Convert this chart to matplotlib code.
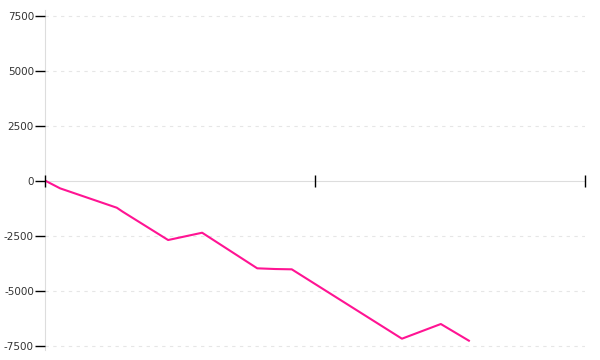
import matplotlib
matplotlib.use("Agg")
import matplotlib.pyplot as plt

# cumulative value per step (x in arbitrary units 0..100)
x_vals = [0, 2.8, 13.3, 14.4, 22.8, 29.1, 39.3, 42.6, 45.7, 66.1, 73.3, 78.5]
y_vals = [0, -355, -1236, -1418, -2704, -2372, -3990, -4022, -4036, -7190, -6522, -7281]
y_ticks = [-7500, -5000, -2500, 0, 2500, 5000, 7500]
x_ticks = [0, 50, 100]

fig = plt.figure(figsize=(6, 3.6), dpi=100)
ax = fig.add_axes([0.075, 0.028, 0.9, 0.944])

ax.plot(x_vals, y_vals, color='#ff1493', linewidth=1.5, zorder=1)

ax.set_xlim(0, 100)
ax.set_ylim(-7700, 7750)

# dashed grid, skipping the zero line
for t in y_ticks:
    if t != 0:
        ax.axhline(t, color='#e6e6e6', linewidth=0.8, linestyle=(0, (3, 4)), zorder=0)

ax.spines['top'].set_visible(False)
ax.spines['right'].set_visible(False)
ax.spines['left'].set_color('#dddddd')
ax.spines['left'].set_zorder(0.5)
ax.spines['bottom'].set_position(('data', 0))
ax.spines['bottom'].set_color('#dddddd')
ax.spines['bottom'].set_zorder(0.5)

ax.set_yticks(y_ticks)
ax.set_yticklabels([str(t) for t in y_ticks])
ax.tick_params(axis='y', direction='out', length=7, width=1, color='black',
               labelsize=7.5, labelcolor='#333333', pad=1)
ax.set_xticks(x_ticks)
ax.set_xticklabels([])
ax.tick_params(axis='x', direction='inout', length=9, width=1, color='black')
ax.xaxis.set_zorder(3)

fig.savefig('out.png', dpi=100)
